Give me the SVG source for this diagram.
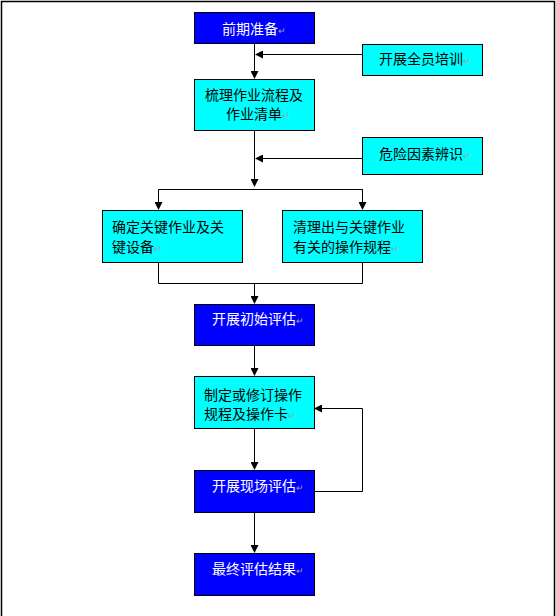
<svg xmlns="http://www.w3.org/2000/svg" width="556" height="616" viewBox="0 0 556 616">
<style>
.blue{fill:#0000FF;stroke:#000;stroke-width:1}
.cyan{fill:#00FFFF;stroke:#000;stroke-width:1}
.t{font-family:"Noto Sans CJK SC","Liberation Sans",sans-serif;font-size:14px}
.w{fill:#FFFFFF}
.k{fill:#000000}
.pm{fill:#A0A0A0;font-size:9px}
.ln{fill:none;stroke:#000;stroke-width:1}
</style>
<defs>
<marker id="ah" markerWidth="8" markerHeight="8" refX="7" refY="4" orient="auto" markerUnits="userSpaceOnUse">
<path d="M0,0 L8,4 L0,8 Z" fill="#000"/>
</marker>
</defs>
<rect x="0" y="0" width="556" height="616" fill="#FFFFFF"/>
<path d="M1.5,620 V1.5 H554.5 V620" fill="none" stroke="#000" stroke-width="1.5"/>
<g id="connectors">
<path class="ln" d="M254.5,43 V78" marker-end="url(#ah)"/>
<path class="ln" d="M362,54.5 H256" marker-end="url(#ah)"/>
<path class="ln" d="M254.5,130 V186" marker-end="url(#ah)"/>
<path class="ln" d="M362,158.5 H256" marker-end="url(#ah)"/>
<path class="ln" d="M158.5,209 V189.5 H362.5 V209"/>
<path class="ln" d="M158.5,189.5 V209" marker-end="url(#ah)"/>
<path class="ln" d="M362.5,189.5 V209" marker-end="url(#ah)"/>
<path class="ln" d="M158.5,262 V283.5 H362.5 V262"/>
<path class="ln" d="M254.5,283.5 V303" marker-end="url(#ah)"/>
<path class="ln" d="M254.5,345 V375" marker-end="url(#ah)"/>
<path class="ln" d="M254.5,428 V469" marker-end="url(#ah)"/>
<path class="ln" d="M254.5,512 V552" marker-end="url(#ah)"/>
<path class="ln" d="M314,491.5 H362.5 V408.5 H315" marker-end="url(#ah)"/>
</g>
<g id="n1">
<rect class="blue" x="194.5" y="12.5" width="120" height="31"/>
<text class="t w" x="222" y="34" font-size="15">前期准备<tspan class="pm">↵</tspan></text>
</g>
<g id="n2">
<rect class="cyan" x="362.5" y="44.5" width="120" height="31"/>
<text class="t k" x="379" y="64">开展全员培训<tspan class="pm">↵</tspan></text>
</g>
<g id="n3">
<rect class="cyan" x="194.5" y="79.5" width="120" height="51"/>
<text class="t k" x="205" y="100">梳理作业流程及</text>
<text class="t k" x="226" y="119">作业清单<tspan class="pm">↵</tspan></text>
</g>
<g id="n4">
<rect class="cyan" x="362.5" y="137.5" width="120" height="37"/>
<text class="t k" x="379" y="159">危险因素辨识<tspan class="pm">↵</tspan></text>
</g>
<g id="n5">
<rect class="cyan" x="102.5" y="210.5" width="140" height="52"/>
<text class="t k" x="112" y="232">确定关键作业及关</text>
<text class="t k" x="112" y="252">键设备<tspan class="pm">↵</tspan></text>
</g>
<g id="n6">
<rect class="cyan" x="282.5" y="210.5" width="140" height="52"/>
<text class="t k" x="293" y="232">清理出与关键作业</text>
<text class="t k" x="293" y="252">有关的操作规程<tspan class="pm">↵</tspan></text>
</g>
<g id="n7">
<rect class="blue" x="194.5" y="304.5" width="120" height="41"/>
<text class="t w" x="212" y="324">开展初始评估<tspan class="pm">↵</tspan></text>
</g>
<g id="n8">
<rect class="cyan" x="194.5" y="376.5" width="120" height="52"/>
<text class="t k" x="204" y="400">制定或修订操作</text>
<text class="t k" x="204" y="419">规程及操作卡<tspan class="pm">↵</tspan></text>
</g>
<g id="n9">
<rect class="blue" x="194.5" y="470.5" width="120" height="42"/>
<text class="t w" x="212" y="491">开展现场评估<tspan class="pm">↵</tspan></text>
</g>
<g id="n10">
<rect class="blue" x="194.5" y="553.5" width="120" height="42"/>
<text class="t w" x="212" y="574">最终评估结果<tspan class="pm">↵</tspan></text>
</g>
</svg>
